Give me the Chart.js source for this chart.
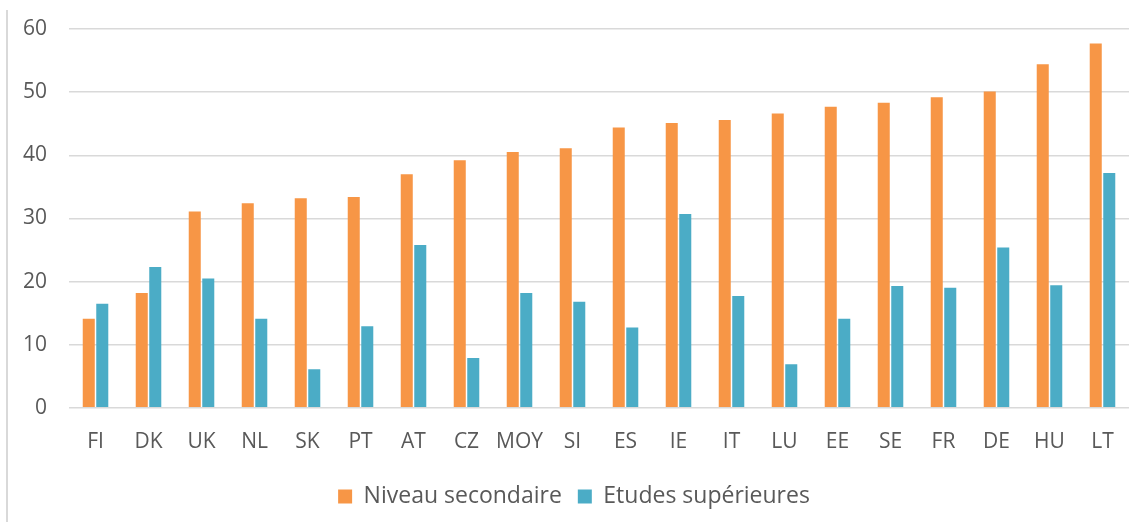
<!DOCTYPE html>
<html>
<head>
<meta charset="utf-8">
<script src="https://cdn.jsdelivr.net/npm/chart.js@4/dist/chart.umd.min.js"></script>
<style>
  html, body { margin: 0; padding: 0; background: #fff; }
  #wrap { position: relative; width: 1148px; height: 522px; }
  #edge { position: absolute; left: 6px; top: 10px; width: 2px; height: 512px; background: #d9d9d9; }
  canvas { position: absolute; left: 0; top: 0; }
</style>
</head>
<body>
<div id="wrap">
  <div id="edge"></div>
  <canvas id="chart" width="1148" height="522"></canvas>
</div>
<script>
var countries = ["FI", "DK", "UK", "NL", "SK", "PT", "AT", "CZ", "MOY", "SI", "ES", "IE", "IT", "LU", "EE", "SE", "FR", "DE", "HU", "LT"];
var secondaire = [14.1, 18.2, 31.1, 32.4, 33.2, 33.4, 37.0, 39.2, 40.5, 41.1, 44.4, 45.1, 45.6, 46.6, 47.7, 48.3, 49.2, 50.1, 54.4, 57.7];
var superieures = [16.5, 22.3, 20.5, 14.1, 6.1, 12.9, 25.8, 7.9, 18.2, 16.8, 12.7, 30.7, 17.7, 6.9, 14.1, 19.3, 19.0, 25.4, 19.4, 37.2];

Chart.defaults.font.family = "'Open Sans', 'Noto Sans', sans-serif";
Chart.defaults.color = "#595959";

new Chart("chart", {
    type: "bar",
    data: {
        labels: countries,
        datasets: [{
            label: "Niveau secondaire",
            backgroundColor: "#f79646",
            data: secondaire
        }, {
            label: "Etudes supérieures",
            backgroundColor: "#4bacc6",
            data: superieures
        }]
    },
    options: {
        responsive: false,
        animation: false,
        categoryPercentage: 0.51,
        barPercentage: 0.89,
        layout: { padding: { top: 29, right: 19, left: 19, bottom: 4 } },
        plugins: {
            legend: {
                position: "bottom",
                labels: {
                    font: { size: 23 },
                    color: "#595959",
                    boxWidth: 14,
                    boxHeight: 14,
                    padding: 16
                }
            },
            tooltip: { enabled: false }
        },
        scales: {
            x: {
                grid: { display: false },
                border: { display: false },
                ticks: { font: { size: 21 }, padding: 14, maxRotation: 0, autoSkip: false }
            },
            y: {
                min: 0,
                max: 60,
                ticks: { stepSize: 10, font: { size: 21 }, padding: 4 },
                grid: { color: "#d9d9d9", lineWidth: 1.5, drawTicks: true, tickLength: 18, tickColor: "rgba(0,0,0,0)" },
                border: { display: false }
            }
        }
    }
});
</script>
</body>
</html>
